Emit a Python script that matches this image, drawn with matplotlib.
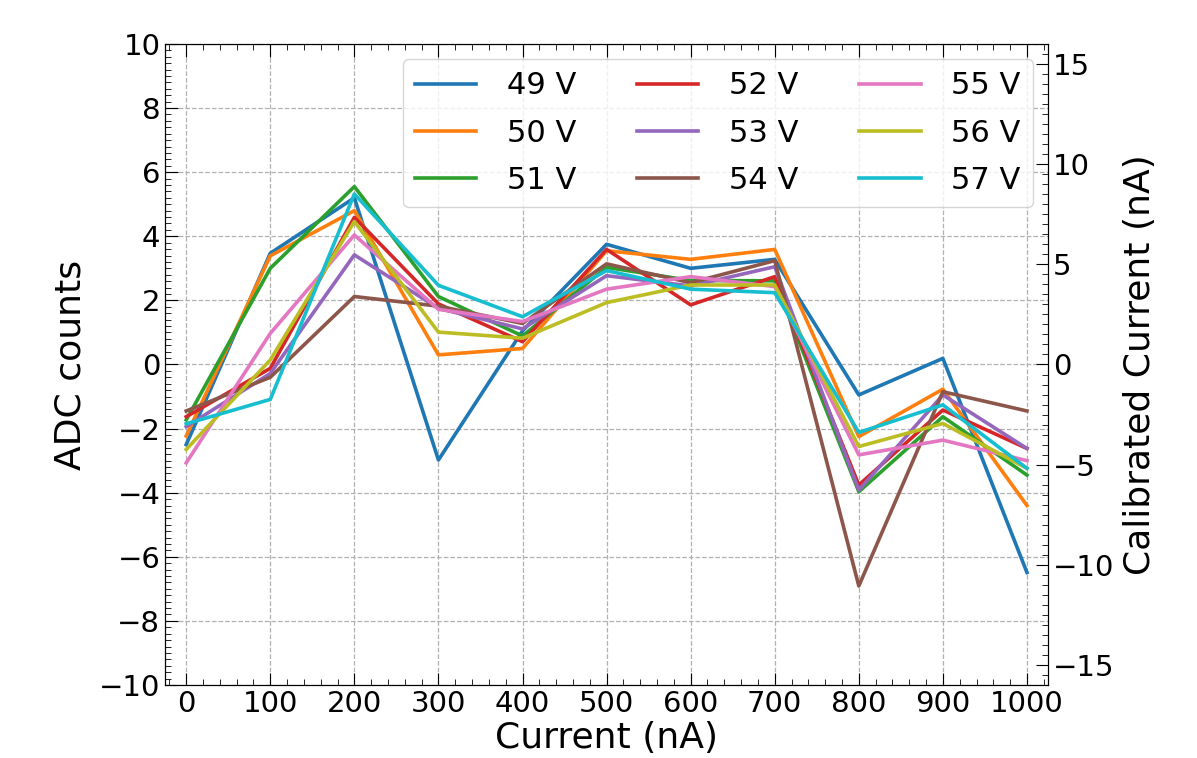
import matplotlib.pyplot as plt
from matplotlib.ticker import MultipleLocator

# Injected current steps (nA)
current = [0, 100, 200, 300, 400, 500, 600, 700, 800, 900, 1000]

# ADC counts per bias voltage
adc_49 = [-2.5, 3.47, 5.2, -2.98, 1.05, 3.75, 3.0, 3.28, -0.95, 0.19, -6.49]
adc_50 = [-2.23, 3.39, 4.8, 0.3, 0.5, 3.55, 3.28, 3.59, -2.25, -0.77, -4.4]
adc_51 = [-1.73, 3.0, 5.55, 2.12, 0.89, 3.03, 2.62, 2.61, -3.97, -1.63, -3.45]
adc_52 = [-1.63, -0.12, 4.59, 1.89, 0.71, 3.59, 1.86, 2.74, -3.76, -1.42, -2.62]
adc_53 = [-1.94, -0.28, 3.42, 1.75, 1.11, 2.77, 2.45, 3.05, -3.92, -0.95, -2.62]
adc_54 = [-1.45, -0.4, 2.12, 1.82, 1.28, 3.14, 2.55, 3.24, -6.91, -0.85, -1.45]
adc_55 = [-3.07, 0.97, 4.04, 1.72, 1.34, 2.35, 2.74, 2.43, -2.82, -2.36, -3.0]
adc_56 = [-2.65, 0.14, 4.46, 1.01, 0.82, 1.93, 2.48, 2.48, -2.56, -1.84, -3.24]
adc_57 = [-1.85, -1.09, 5.32, 2.47, 1.49, 2.93, 2.35, 2.24, -2.12, -1.26, -3.24]

series = [adc_49, adc_50, adc_51, adc_52, adc_53, adc_54, adc_55, adc_56, adc_57]
voltages = ['49 V', '50 V', '51 V', '52 V', '53 V', '54 V', '55 V', '56 V', '57 V']
colors = ['tab:blue', 'tab:orange', 'tab:green', 'tab:red', 'tab:purple',
          'tab:brown', 'tab:pink', 'tab:olive', 'tab:cyan']

# nA per ADC count
calib = 1.6

fig, ax = plt.subplots(figsize=(11.97, 7.58), dpi=100)
fig.subplots_adjust(left=0.138, right=0.8755, top=0.942, bottom=0.0963)

for vals, lab, c in zip(series, voltages, colors):
    ax.plot(current, vals, lw=2.6, color=c, label=lab)

ax.set_xlim(-25, 1025)
ax.set_ylim(-10, 10)
ax.set_xticks(current)
ax.xaxis.set_minor_locator(MultipleLocator(20))
ax.yaxis.set_major_locator(MultipleLocator(2))
ax.yaxis.set_minor_locator(MultipleLocator(0.2))
ax.tick_params(which='both', direction='in', top=True, right=False, labelsize=21)
ax.tick_params(which='major', length=9)
ax.tick_params(which='minor', length=4.5)
ax.grid(True, which='major', linestyle='--', color='#b0b0b0', lw=0.9)

ax.set_xlabel('Current (nA)', fontsize=26, labelpad=2)
ax.set_ylabel('ADC counts', fontsize=26, labelpad=8)

# Second axis with the calibrated current
ax2 = ax.twinx()
ax2.set_ylim(-10 * calib, 10 * calib)
ax2.yaxis.set_major_locator(MultipleLocator(5))
ax2.yaxis.set_minor_locator(MultipleLocator(0.5))
ax2.tick_params(which='both', direction='in', labelsize=21)
ax2.tick_params(which='major', length=9)
ax2.tick_params(which='minor', length=4.5)
ax2.set_ylabel('Calibrated Current (nA)', fontsize=26, labelpad=6)

ax.legend(ncol=3, loc='upper right', fontsize=22, columnspacing=2.0,
          handlelength=2.0, handletextpad=1.0, labelspacing=0.6)

fig.savefig('out.png', dpi=100)
